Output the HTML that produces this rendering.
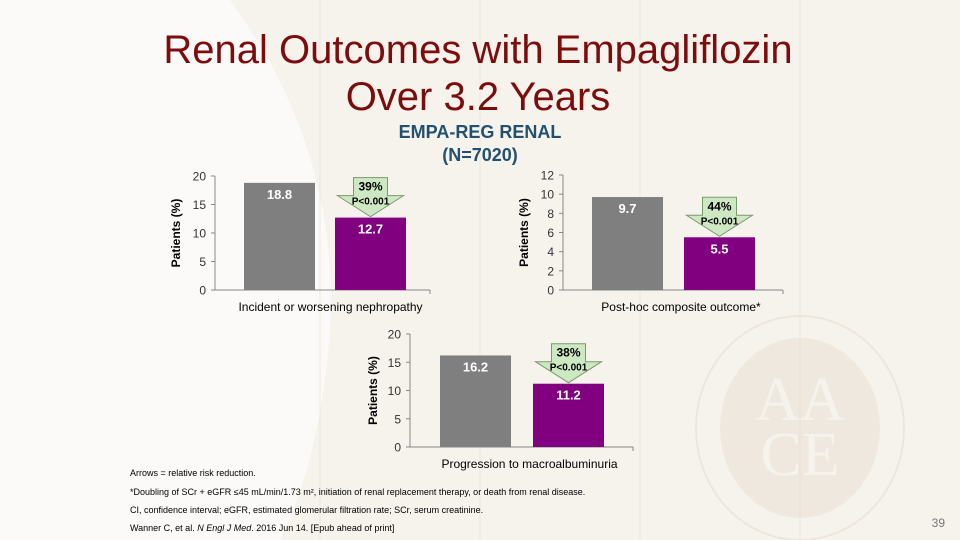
<!DOCTYPE html>
<html><head><meta charset="utf-8">
<style>
html,body{margin:0;padding:0;overflow:hidden}
body{width:960px;height:540px;overflow:hidden;background:#f6f2ec;font-family:"Liberation Sans",sans-serif}
svg{display:block;overflow:hidden}
</style></head>
<body>
<svg id="slide" width="960" height="540" viewBox="0 0 960 540">
  <defs><clipPath id="clip"><rect x="0" y="0" width="960" height="540"/></clipPath></defs>
  <g clip-path="url(#clip)">
  <rect x="0" y="0" width="960" height="540" fill="#f6f2ec"/>
  <path d="M0,0 L230,0 Q340,150 330,330 Q320,460 280,540 L0,540 Z" fill="#fbfaf8"/>
  <g stroke="#ece6dd" stroke-width="1">
    <line x1="320" y1="0" x2="320" y2="540"/><line x1="480" y1="0" x2="480" y2="540"/>
    <line x1="640" y1="0" x2="640" y2="540"/><line x1="800" y1="0" x2="800" y2="540"/>
  </g>
  <g opacity="0.35">
    <ellipse cx="800" cy="428" rx="104" ry="112" fill="none" stroke="#ddd2bf" stroke-width="2"/>
    <ellipse cx="800" cy="428" rx="80" ry="90" fill="#e3d8c6"/>
    <text x="800" y="420" text-anchor="middle" font-family="Liberation Serif" font-size="62" fill="#f8f5ef">AA</text>
    <text x="800" y="475" text-anchor="middle" font-family="Liberation Serif" font-size="62" fill="#f8f5ef">CE</text>
  </g>
  </g>
  <text x="478" y="63" text-anchor="middle" font-size="40" fill="#7d0c0c">Renal Outcomes with Empagliflozin</text>
  <text x="478" y="110" text-anchor="middle" font-size="40" fill="#7d0c0c">Over 3.2 Years</text>
  <text x="480" y="138" text-anchor="middle" font-size="18" font-weight="bold" fill="#245070">EMPA-REG RENAL</text>
  <text x="480" y="161" text-anchor="middle" font-size="18" font-weight="bold" fill="#245070">(N=7020)</text>

  <g font-size="9" fill="#000">
    <text x="130" y="476">Arrows = relative risk reduction.</text>
    <text x="130" y="495">*Doubling of SCr + eGFR ≤45 mL/min/1.73 m², initiation of renal replacement therapy, or death from renal disease.</text>
    <text x="130" y="513">CI, confidence interval; eGFR, estimated glomerular filtration rate; SCr, serum creatinine.</text>
    <text x="130" y="531">Wanner C, et al. <tspan font-style="italic">N Engl J Med</tspan>. 2016 Jun 14. [Epub ahead of print]</text>
  </g>
  <text x="945" y="527" text-anchor="end" font-size="12" fill="#777">39</text>
  <g id="charts"></g>
</svg>
<script>
// Chart data
const chartNames = ["nephropathy", "composite", "macroalbuminuria"];
const categories = ["Incident or worsening nephropathy", "Post-hoc  composite outcome*", "Progression to macroalbuminuria"];
const placeboValues = [18.8, 9.7, 16.2];
const empaValues = [12.7, 5.5, 11.2];
const rrrLabels = ["39%", "44%", "38%"];
const pLabels = ["P<0.001", "P<0.001", "P<0.001"];
const yMaxes = [20, 12, 20];
const tickLists = [[0,5,10,15,20],[0,2,4,6,8,10,12],[0,5,10,15,20]];

const layouts = [
  {ax:215, y0:290, h:114, xEnd:430, b1:244, b2:335, bw:71, ytitle:176},
  {ax:563, y0:290, h:115, xEnd:783, b1:592, b2:684, bw:71, ytitle:524},
  {ax:410, y0:447, h:113, xEnd:633, b1:440, b2:533, bw:71, ytitle:373}
];
const NS = "http://www.w3.org/2000/svg";
const root = document.getElementById("charts");
function mk(tag, attrs, parent){const e=document.createElementNS(NS,tag);for(const k in attrs)e.setAttribute(k,attrs[k]);(parent||root).appendChild(e);return e;}

layouts.forEach((L,i)=>{
  const g = mk("g",{});
  
  
  const yScale = v => L.y0 - v / yMaxes[i] * L.h;
  const ax = mk("line",{x1:L.ax,y1:yScale(yMaxes[i]),x2:L.ax,y2:L.y0,stroke:"#888","stroke-width":1},g);
  
  
  const xa = mk("line",{x1:L.ax,y1:L.y0,x2:L.xEnd,y2:L.y0,stroke:"#888","stroke-width":1},g);
  
  
  mk("line",{x1:L.xEnd,y1:L.y0,x2:L.xEnd,y2:L.y0+4,stroke:"#888"},g);
  tickLists[i].forEach(t=>{
    const y = yScale(t);
    mk("line",{x1:L.ax-4,y1:y,x2:L.ax,y2:y,stroke:"#888"},g);
    const tl = mk("text",{x:L.ax-9,y:y+4.5,"text-anchor":"end","font-size":12,fill:"#333"},g);
    tl.textContent = t;
    
    
  });
  const yt = mk("text",{x:0,y:0,"text-anchor":"middle","font-size":12,"font-weight":"bold",fill:"#000",transform:`translate(${L.ytitle+4},${yScale(yMaxes[i]/2)}) rotate(-90)`},g);
  yt.textContent = "Patients (%)";
  
  
  const vals = [placeboValues[i], empaValues[i]];
  const xs = [L.b1, L.b2];
  const cols = ["#7f7f7f", "#800080"];
  vals.forEach((v,j)=>{
    const r = mk("rect",{x:xs[j],y:yScale(v),width:L.bw,height:L.y0-yScale(v),fill:cols[j]},g);
    
    
    const lt = mk("text",{x:xs[j]+L.bw/2,y:yScale(v)+16,"text-anchor":"middle","font-size":13,"font-weight":"bold",fill:"#fff"},g);
    lt.textContent = v.toFixed(1);
    
    
  });
  const cx = L.b2 + L.bw/2;
  const tip = yScale(empaValues[i]);
  const arrow = mk("g",{},g);
  
  
  mk("polygon",{points:`${cx-17},${tip-40} ${cx+17},${tip-40} ${cx+17},${tip-22} ${cx+33},${tip-22} ${cx},${tip-1} ${cx-33},${tip-22} ${cx-17},${tip-22}`,fill:"#cfe8c4",stroke:"#7a9a6e","stroke-width":1},arrow);
  const rt = mk("text",{x:cx,y:tip-27,"text-anchor":"middle","font-size":12,"font-weight":"bold",fill:"#000"},arrow);
  rt.textContent = rrrLabels[i];
  
  
  const pt = mk("text",{x:cx,y:tip-13,"text-anchor":"middle","font-size":10,"font-weight":"bold",fill:"#000"},arrow);
  pt.textContent = pLabels[i];
  
  
  const cl = mk("text",{x:(L.ax+L.xEnd)/2+8,y:L.y0+21,"text-anchor":"middle","font-size":12,fill:"#000"},g);
  cl.textContent = categories[i];
  
  
});
</script>
</body></html>
